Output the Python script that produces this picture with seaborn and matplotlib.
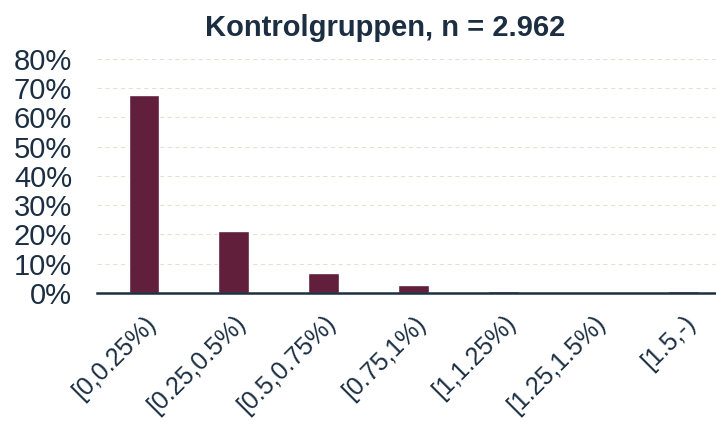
import pandas as pd
import matplotlib.pyplot as plt
import seaborn as sns
from matplotlib.ticker import PercentFormatter

# data
categories = ['[0,0.25%)', '[0.25,0.5%)', '[0.5,0.75%)', '[0.75,1%)',
              '[1,1.25%)', '[1.25,1.5%)', '[1.5,-)']
shares = [67.7, 21.2, 6.8, 2.7, 0.7, 0.0, 0.7]

df = pd.DataFrame({'interval': categories, 'share': shares})

sns.set_style('white')
plt.rcParams['font.family'] = ['Liberation Sans', 'DejaVu Sans']
text_col = '#1c2f42'
bar_col = '#611f3b'

fig = plt.figure(figsize=(7.16, 4.25), dpi=100)
ax = fig.add_axes([0.1355, 0.3106, 0.8645, 0.5506])

sns.barplot(data=df, x='interval', y='share', color=bar_col, width=0.34,
            saturation=1, ax=ax, zorder=3)

ax.set_ylim(0, 80)
ax.set_xlim(-0.52, 6.36)
ax.set_yticks(range(0, 81, 10))
ax.yaxis.set_major_formatter(PercentFormatter(decimals=0))
ax.grid(axis='y', color='#e6e2d3', linestyle=(0, (4, 3)), linewidth=0.8, zorder=0)

for s in ['top', 'right', 'left']:
    ax.spines[s].set_visible(False)
ax.spines['bottom'].set_color(text_col)
ax.spines['bottom'].set_linewidth(1.8)
ax.spines['bottom'].set_zorder(4)

ax.tick_params(axis='both', length=0, colors=text_col)
ax.tick_params(axis='y', labelsize=21, pad=18)
ax.tick_params(axis='x', labelsize=18, pad=13)
plt.setp(ax.get_xticklabels(), rotation=45, ha='right', rotation_mode='anchor')
ax.set_xlabel('')
ax.set_ylabel('')

fig.text(0.538, 0.935, 'Kontrolgruppen, n = 2.962', fontsize=21, fontweight='bold',
         color=text_col, ha='center', va='center')

plt.savefig('out.png', dpi=100)
